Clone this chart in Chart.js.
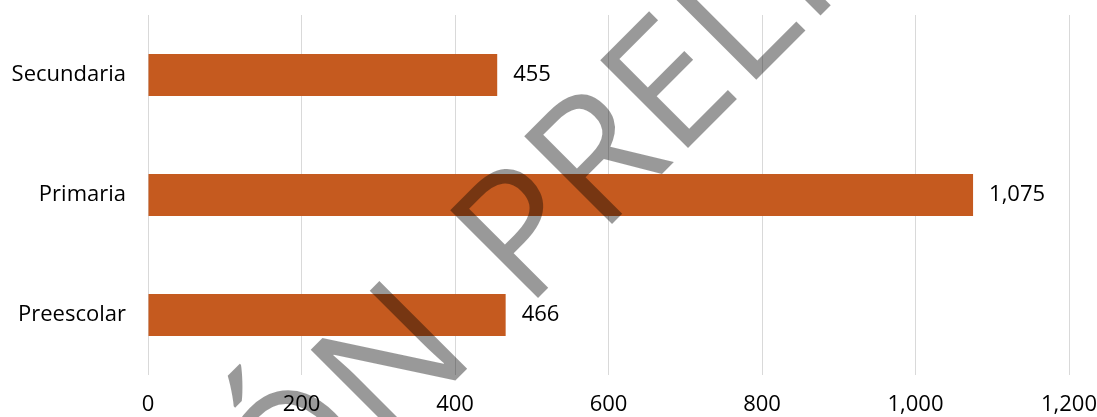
<!DOCTYPE html>
<html>
<head>
<meta charset="utf-8">
<script src="https://cdn.jsdelivr.net/npm/chart.js@4"></script>
<style>
  html, body { margin: 0; padding: 0; background: #fff; }
  #wrap { width: 1097px; height: 417px; }
</style>
</head>
<body>
<div id="wrap"><canvas id="grafica"></canvas></div>
<script>
var niveles = ["Secundaria", "Primaria", "Preescolar"];
var alumnos = [455, 1075, 466];
var marcaAgua = ["VERSIÓN", "PRELIMINAR"];

var fuente = "'Open Sans', 'Noto Sans', sans-serif";

// etiquetas con el valor a la derecha de cada barra
var etiquetas = {
  id: "etiquetas",
  afterDatasetsDraw: function (chart) {
    var ctx = chart.ctx;
    var meta = chart.getDatasetMeta(0);
    ctx.save();
    ctx.font = "22px " + fuente;
    ctx.fillStyle = "#000";
    ctx.textAlign = "left";
    ctx.textBaseline = "middle";
    meta.data.forEach(function (barra, i) {
      ctx.fillText(alumnos[i].toLocaleString("en-US"), barra.x + 16, barra.y);
    });
    ctx.restore();
  }
};

// texto diagonal encima de todo; el punto fijo es el inicio de la segunda palabra
var sello = {
  id: "sello",
  afterDraw: function (chart) {
    var ctx = chart.ctx;
    ctx.save();
    ctx.font = "174px " + fuente;
    var hueco = ctx.measureText(" ").width + 21;
    ctx.translate(526, 310);
    ctx.rotate(-Math.PI / 4);
    ctx.fillStyle = "rgba(0,0,0,0.4)";
    ctx.textBaseline = "alphabetic";
    ctx.textAlign = "right";
    ctx.fillText(marcaAgua[0], -hueco, 0);
    ctx.textAlign = "left";
    ctx.fillText(marcaAgua[1], 0, 0);
    ctx.restore();
  }
};

new Chart(document.getElementById("grafica"), {
  type: "bar",
  data: {
    labels: niveles,
    datasets: [{
      data: alumnos,
      backgroundColor: "#C55A1F",
      barPercentage: 0.35,
      categoryPercentage: 1
    }]
  },
  options: {
    indexAxis: "y",
    responsive: true,
    maintainAspectRatio: false,
    animation: false,
    layout: { padding: { top: 15, right: 28, left: 0, bottom: 0 } },
    plugins: {
      legend: { display: false },
      tooltip: { enabled: false }
    },
    scales: {
      x: {
        min: 0,
        max: 1200,
        ticks: {
          stepSize: 200,
          padding: 17,
          color: "#000",
          font: { family: fuente, size: 22 },
          callback: function (v) { return v.toLocaleString("en-US"); }
        },
        grid: { color: "#d9d9d9", drawTicks: false },
        border: { display: false },
        afterFit: function (s) {
          s.height = 42;
          s.paddingLeft = 0;
          s.paddingRight = 0;
        }
      },
      y: {
        ticks: {
          padding: 22,
          color: "#000",
          font: { family: fuente, size: 22 }
        },
        grid: { display: false, drawTicks: false },
        border: { display: false },
        afterFit: function (s) {
          s.width = 148;
          s.paddingTop = 0;
          s.paddingBottom = 0;
        }
      }
    }
  },
  plugins: [etiquetas, sello]
});
</script>
</body>
</html>
